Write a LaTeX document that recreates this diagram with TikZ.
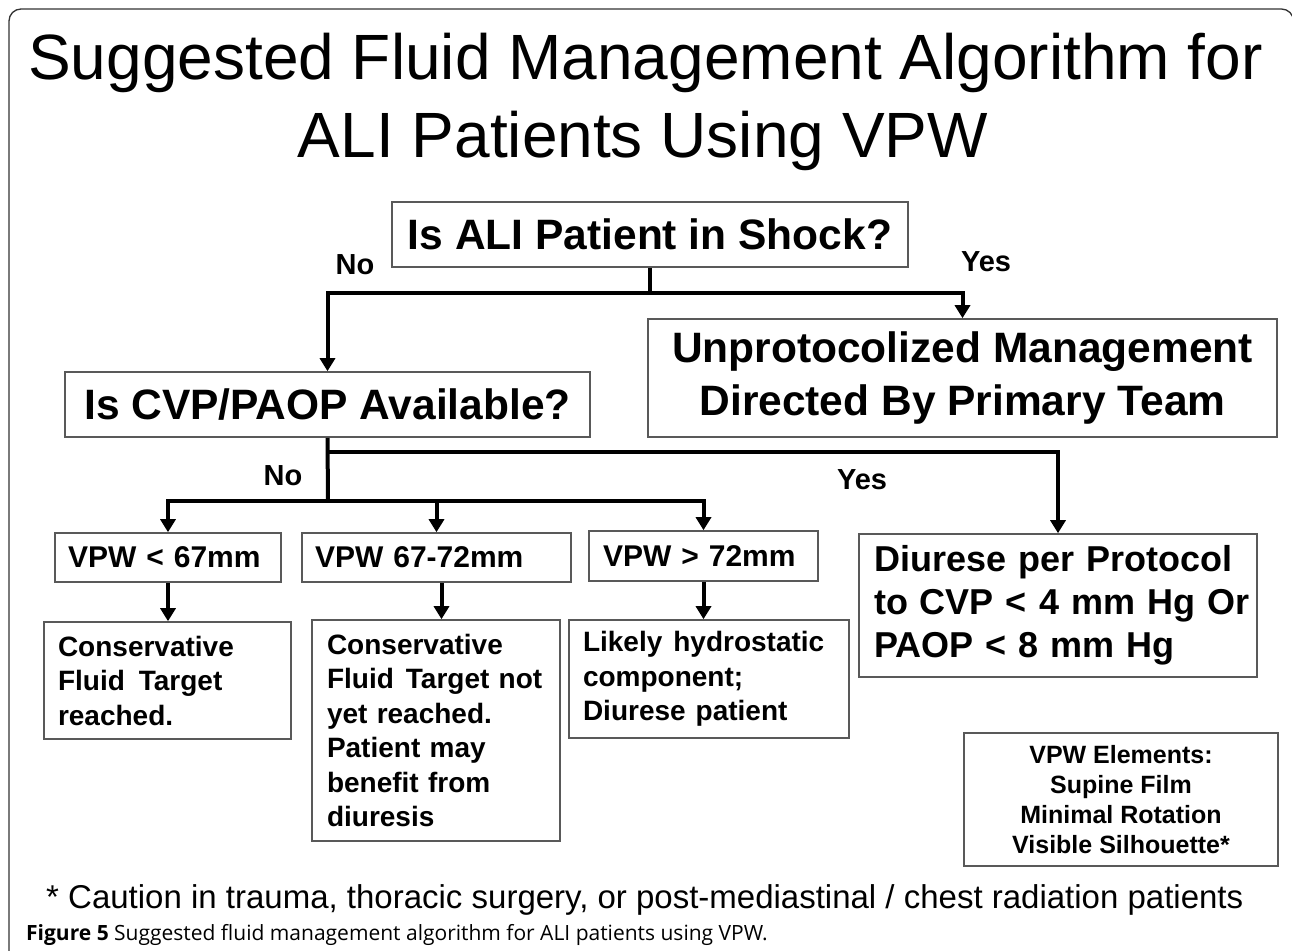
\documentclass[tikz,border=0pt]{standalone}
\usepackage{fontspec}
\setmainfont{Liberation Sans}
\newfontfamily\capfont{Open Sans}
\usetikzlibrary{arrows.meta}
\begin{document}
\begin{tikzpicture}[x=1pt,y=-1pt,
  box/.style={draw=black!65, line width=1.6pt, inner sep=0pt, font=\bfseries},
  bigtxt/.style={font=\fontsize{42.5}{53}\selectfont\bfseries},
  midtxt/.style={font=\fontsize{28}{34.5}\selectfont\bfseries},
  conn/.style={line width=4pt, black},
  arr/.style={conn, -{Triangle[width=15pt,length=13pt]}},
  lbl/.style={font=\fontsize{29}{34}\selectfont\bfseries, inner sep=0pt}]
\useasboundingbox (0,0) rectangle (1292,950);
\clip (0,0) rectangle (1292,950);
\fill[white] (0,0) rectangle (1292,950);
% outer frame
\draw[black!80, line width=1.3pt, rounded corners=12pt] (9,980) -- (9,9) -- (1293.5,9) -- (1293.5,980);
% title
\node[font=\fontsize{64}{80}\selectfont, inner sep=0pt, anchor=base] (title1) at (645.5,79) {Suggested Fluid Management Algorithm for};
\node[font=\fontsize{64}{80}\selectfont, inner sep=0pt, anchor=base] (title2) at (643,157) {ALI Patients Using VPW};
% boxes
\node[box, bigtxt, minimum width=516pt, minimum height=65pt] (shock) at (650,234.5) {Is ALI Patient in Shock?};
\node[box, bigtxt, minimum width=629pt, minimum height=118pt, align=center] (unprot) at (962.5,378) {Unprotocolized Management\\Directed By Primary Team};
\node[box, bigtxt, minimum width=525pt, minimum height=65pt] (cvp) at (327.5,404.5) {Is CVP/PAOP Available?};
\node[box, font=\fontsize{36}{43}\selectfont\bfseries, minimum width=398pt, minimum height=143pt, inner xsep=15pt, text width=368pt, align=left] (diur) at (1058,605.5) {\mbox{Diurese per Protocol}\\\mbox{to CVP {<} 4 mm Hg Or}\\\mbox{PAOP {<} 8 mm Hg}};
\node[box, font=\fontsize{30}{36}\selectfont\bfseries, minimum width=226pt, minimum height=49pt, inner xsep=13pt, text width=200pt, align=left] (vpw1) at (168,557.5) {\mbox{VPW {<} 67mm}};
\node[box, font=\fontsize{30}{36}\selectfont\bfseries, minimum width=269pt, minimum height=49pt, inner xsep=13pt, text width=243pt, align=left] (vpw2) at (436.5,557.5) {\mbox{VPW 67-72mm}};
\node[box, font=\fontsize{30}{36}\selectfont\bfseries, minimum width=229pt, minimum height=50pt, inner xsep=14pt, text width=201pt, align=left] (vpw3) at (703.5,556) {\mbox{VPW {>} 72mm}};
\node[box, midtxt, minimum width=247pt, minimum height=117pt, inner xsep=14pt, text width=219pt, align=left] (res1) at (167.5,680.5) {\mbox{Conservative}\\\mbox{Fluid\hspace{14pt}Target}\\\mbox{reached.}};
\node[box, midtxt, minimum width=248pt, minimum height=221pt, inner xsep=15pt, text width=218pt, align=left] (res2) at (436,730.5) {\mbox{Conservative}\\\mbox{Fluid\hspace{12pt}Target not}\\\mbox{yet reached.}\\\mbox{Patient may}\\\mbox{benefit from}\\\mbox{diuresis}};
\node[box, midtxt, minimum width=280pt, minimum height=118pt, inner xsep=14pt, text width=252pt, align=left] (res3) at (709,679) {\mbox{Likely\hspace{11pt}hydrostatic}\\\mbox{component;}\\\mbox{Diurese\hspace{10pt}patient}};
\node[box, font=\fontsize{25}{30}\selectfont\bfseries, minimum width=314pt, minimum height=133pt, align=center] (elem) at (1121,799.5) {VPW Elements:\\Supine Film\\Minimal Rotation\\Visible Silhouette*};
% connectors
\coordinate (j1) at (650,293);
\coordinate (j2) at (328,452);
\coordinate (j3) at (328,501);
\draw[conn] (shock.south) -- (j1);
\draw[arr] (j1) -| (cvp.north);
\draw[arr] (j1) -| (unprot.north);
\draw[conn] (cvp.south) -- (j3);
\draw[arr] (j2) -| (diur.north);
\draw[arr] (j3) -| (vpw1.north);
\draw[arr] (j3) -| (vpw3.north);
\draw[arr] (j3 -| vpw2.north) -- (vpw2.north);
\draw[arr] (vpw1.south) -- (vpw1.south |- res1.north);
\draw[arr] ([xshift=5pt]vpw2.south) -- ([xshift=5pt]vpw2.south |- res2.north);
\draw[arr] (vpw3.south) -- (vpw3.south |- res3.north);
% labels
\node[lbl] (no1) at (355,265) {No};
\node[lbl] (yes1) at (986,262) {Yes};
\node[lbl] (no2) at (283,476) {No};
\node[lbl] (yes2) at (862,480) {Yes};
% footnote and caption
\node[font=\fontsize{33}{38}\selectfont, inner sep=0pt, anchor=base west] (foot) at (46,908) {* Caution in trauma, thoracic surgery, or post-mediastinal / chest radiation patients};
\node[font=\fontsize{21}{25}\selectfont\capfont, inner sep=0pt, anchor=base west] (cap) at (26,940) {\textbf{Figure 5} Suggested fluid management algorithm for ALI patients using VPW.};
\end{tikzpicture}
\end{document}
